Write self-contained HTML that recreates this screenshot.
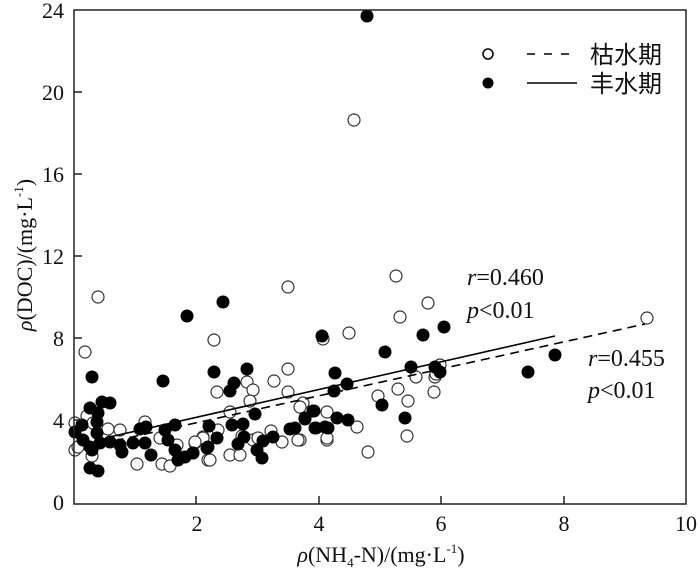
<!DOCTYPE html>
<html><head><meta charset="utf-8"><style>
html,body{margin:0;padding:0;background:#fff;}
svg{display:block;}
text{font-family:"Liberation Serif","Noto Serif CJK SC",serif;fill:#111;}
</style></head><body>
<svg width="700" height="569" viewBox="0 0 700 569" xmlns="http://www.w3.org/2000/svg">
<g fill="#fff" stroke="#333" stroke-width="1.2">
<circle cx="98" cy="297" r="6"/><circle cx="85" cy="352" r="6"/><circle cx="214" cy="340" r="6"/><circle cx="288" cy="287" r="6"/><circle cx="354" cy="120" r="6"/>
<circle cx="396" cy="276" r="6"/><circle cx="428" cy="303" r="6"/><circle cx="400" cy="317" r="6"/><circle cx="647" cy="318" r="6"/><circle cx="349" cy="333" r="6"/>
<circle cx="323" cy="339" r="6"/><circle cx="416" cy="377" r="6"/><circle cx="435" cy="377" r="6"/><circle cx="398" cy="389" r="6"/><circle cx="434" cy="392" r="6"/>
<circle cx="378" cy="396" r="6"/><circle cx="408" cy="401" r="6"/><circle cx="357" cy="427" r="6"/><circle cx="327" cy="440" r="6"/><circle cx="368" cy="452" r="6"/>
<circle cx="407" cy="436" r="6"/><circle cx="303" cy="403" r="6"/><circle cx="300" cy="440" r="6"/>
<circle cx="75" cy="423" r="6"/><circle cx="87" cy="416" r="6"/><circle cx="93" cy="423" r="6"/><circle cx="108" cy="429" r="6"/><circle cx="145" cy="422" r="6"/>
<circle cx="75" cy="450" r="6"/><circle cx="92" cy="456" r="6"/><circle cx="137" cy="464" r="6"/><circle cx="160" cy="438" r="6"/><circle cx="162" cy="464" r="6"/>
<circle cx="170" cy="466" r="6"/><circle cx="177" cy="445" r="6"/><circle cx="195" cy="443" r="6"/><circle cx="203" cy="437" r="6"/><circle cx="208" cy="460" r="6"/><circle cx="78" cy="447" r="6"/>
<circle cx="288" cy="369" r="6"/><circle cx="274" cy="381" r="6"/><circle cx="247" cy="382" r="6"/><circle cx="217" cy="392" r="6"/><circle cx="253" cy="390" r="6"/>
<circle cx="250" cy="401" r="6"/><circle cx="288" cy="392" r="6"/><circle cx="230" cy="412" r="6"/><circle cx="300" cy="407" r="6"/><circle cx="218" cy="430" r="6"/>
<circle cx="203" cy="438" r="6"/><circle cx="195" cy="442" r="6"/><circle cx="242" cy="436" r="6"/><circle cx="271" cy="431" r="6"/><circle cx="253" cy="440" r="6"/>
<circle cx="258" cy="438" r="6"/><circle cx="282" cy="442" r="6"/><circle cx="298" cy="440" r="6"/><circle cx="327" cy="438" r="6"/><circle cx="230" cy="455" r="6"/>
<circle cx="240" cy="455" r="6"/><circle cx="210" cy="460" r="6"/><circle cx="327" cy="412" r="6"/><circle cx="120" cy="430" r="6"/><circle cx="440" cy="365" r="6"/><circle cx="436" cy="374" r="6"/>
</g>
<g fill="#000">
<circle cx="367" cy="16" r="6.5"/><circle cx="92" cy="377" r="6.5"/><circle cx="187" cy="316" r="6.5"/><circle cx="223" cy="302" r="6.5"/><circle cx="163" cy="381" r="6.5"/>
<circle cx="214" cy="372" r="6.5"/><circle cx="247" cy="369" r="6.5"/><circle cx="234" cy="383" r="6.5"/><circle cx="230" cy="391" r="6.5"/><circle cx="255" cy="414" r="6.5"/>
<circle cx="322" cy="336" r="6.5"/><circle cx="385" cy="352" r="6.5"/><circle cx="423" cy="335" r="6.5"/><circle cx="444" cy="327" r="6.5"/><circle cx="435" cy="367" r="6.5"/>
<circle cx="440" cy="372" r="6.5"/><circle cx="411" cy="367" r="6.5"/><circle cx="528" cy="372" r="6.5"/><circle cx="555" cy="355" r="6.5"/><circle cx="335" cy="373" r="6.5"/>
<circle cx="347" cy="384" r="6.5"/><circle cx="334" cy="391" r="6.5"/><circle cx="382" cy="405" r="6.5"/><circle cx="405" cy="418" r="6.5"/><circle cx="314" cy="411" r="6.5"/>
<circle cx="305" cy="419" r="6.5"/><circle cx="337" cy="418" r="6.5"/><circle cx="348" cy="420" r="6.5"/><circle cx="316" cy="428" r="6.5"/><circle cx="328" cy="428" r="6.5"/>
<circle cx="90" cy="408" r="6.5"/><circle cx="102" cy="402" r="6.5"/><circle cx="110" cy="403" r="6.5"/><circle cx="98" cy="413" r="6.5"/><circle cx="97" cy="422" r="6.5"/>
<circle cx="82" cy="425" r="6.5"/><circle cx="75" cy="432" r="6.5"/><circle cx="97" cy="433" r="6.5"/><circle cx="83" cy="440" r="6.5"/><circle cx="90" cy="447" r="6.5"/>
<circle cx="100" cy="443" r="6.5"/><circle cx="110" cy="442" r="6.5"/><circle cx="120" cy="445" r="6.5"/><circle cx="122" cy="452" r="6.5"/><circle cx="92" cy="450" r="6.5"/>
<circle cx="133" cy="443" r="6.5"/><circle cx="145" cy="443" r="6.5"/><circle cx="140" cy="429" r="6.5"/><circle cx="146" cy="427" r="6.5"/><circle cx="151" cy="455" r="6.5"/>
<circle cx="165" cy="430" r="6.5"/><circle cx="175" cy="425" r="6.5"/><circle cx="168" cy="440" r="6.5"/><circle cx="175" cy="450" r="6.5"/><circle cx="178" cy="460" r="6.5"/>
<circle cx="185" cy="457" r="6.5"/><circle cx="193" cy="453" r="6.5"/><circle cx="90" cy="468" r="6.5"/><circle cx="98" cy="471" r="6.5"/><circle cx="207" cy="448" r="6.5"/>
<circle cx="209" cy="426" r="6.5"/><circle cx="232" cy="425" r="6.5"/><circle cx="243" cy="424" r="6.5"/><circle cx="217" cy="438" r="6.5"/><circle cx="244" cy="437" r="6.5"/>
<circle cx="238" cy="444" r="6.5"/><circle cx="208" cy="447" r="6.5"/><circle cx="193" cy="453" r="6.5"/><circle cx="263" cy="441" r="6.5"/><circle cx="257" cy="450" r="6.5"/>
<circle cx="262" cy="458" r="6.5"/><circle cx="273" cy="437" r="6.5"/><circle cx="290" cy="429" r="6.5"/><circle cx="295" cy="428" r="6.5"/><circle cx="305" cy="418" r="6.5"/>
<circle cx="313" cy="411" r="6.5"/><circle cx="315" cy="428" r="6.5"/><circle cx="325" cy="427" r="6.5"/>
</g>
<line x1="105" y1="438" x2="555" y2="336" stroke="#000" stroke-width="1.6"/>
<line x1="100" y1="444" x2="645" y2="324" stroke="#000" stroke-width="1.6" stroke-dasharray="9,6"/>
<g stroke="#222" stroke-width="1.5" fill="none">
<rect x="74" y="10" width="612" height="494"/>
<line x1="74" y1="92" x2="82" y2="92"/><line x1="74" y1="174" x2="82" y2="174"/><line x1="74" y1="256" x2="82" y2="256"/><line x1="74" y1="338" x2="82" y2="338"/><line x1="74" y1="420" x2="82" y2="420"/>
<line x1="196" y1="504" x2="196" y2="496"/><line x1="319" y1="504" x2="319" y2="496"/><line x1="441" y1="504" x2="441" y2="496"/><line x1="564" y1="504" x2="564" y2="496"/>
</g>
<g font-size="22" text-anchor="end">
<text x="64" y="18">24</text><text x="64" y="100">20</text><text x="64" y="182">16</text><text x="64" y="264">12</text><text x="64" y="346">8</text><text x="64" y="428">4</text><text x="64" y="510">0</text>
</g>
<g font-size="22" text-anchor="middle">
<text x="197" y="531">2</text><text x="319" y="531">4</text><text x="441" y="531">6</text><text x="564" y="531">8</text><text x="686" y="531">10</text>
</g>
<text x="381" y="562" font-size="22" text-anchor="middle"><tspan font-style="italic">ρ</tspan>(NH<tspan font-size="13" dy="5">4</tspan><tspan dy="-5">-N)/(mg·L</tspan><tspan font-size="13" dy="-9">-1</tspan><tspan dy="9">)</tspan></text>
<text transform="translate(32,255) rotate(-90)" font-size="22" text-anchor="middle"><tspan font-style="italic">ρ</tspan>(DOC)/(mg·L<tspan font-size="13" dy="-9">-1</tspan><tspan dy="9">)</tspan></text>
<g font-size="24">
<text x="467" y="285"><tspan font-style="italic">r</tspan>=0.460</text>
<text x="467" y="318"><tspan font-style="italic">p</tspan>&lt;0.01</text>
<text x="588" y="366"><tspan font-style="italic">r</tspan>=0.455</text>
<text x="588" y="398"><tspan font-style="italic">p</tspan>&lt;0.01</text>
</g>
<circle cx="488" cy="54" r="5" fill="#fff" stroke="#000" stroke-width="1.5"/>
<circle cx="488" cy="83" r="5.5" fill="#000"/>
<line x1="527" y1="54" x2="577" y2="54" stroke="#000" stroke-width="1.6" stroke-dasharray="8,9"/>
<line x1="527" y1="83" x2="577" y2="83" stroke="#000" stroke-width="1.6"/>
<g font-size="24" style="font-family:'Noto Sans CJK SC',sans-serif">
<text x="590" y="63" style="font-family:'Noto Sans CJK SC',sans-serif">枯水期</text>
<text x="590" y="92" style="font-family:'Noto Sans CJK SC',sans-serif">丰水期</text>
</g>
</svg>
</body></html>
